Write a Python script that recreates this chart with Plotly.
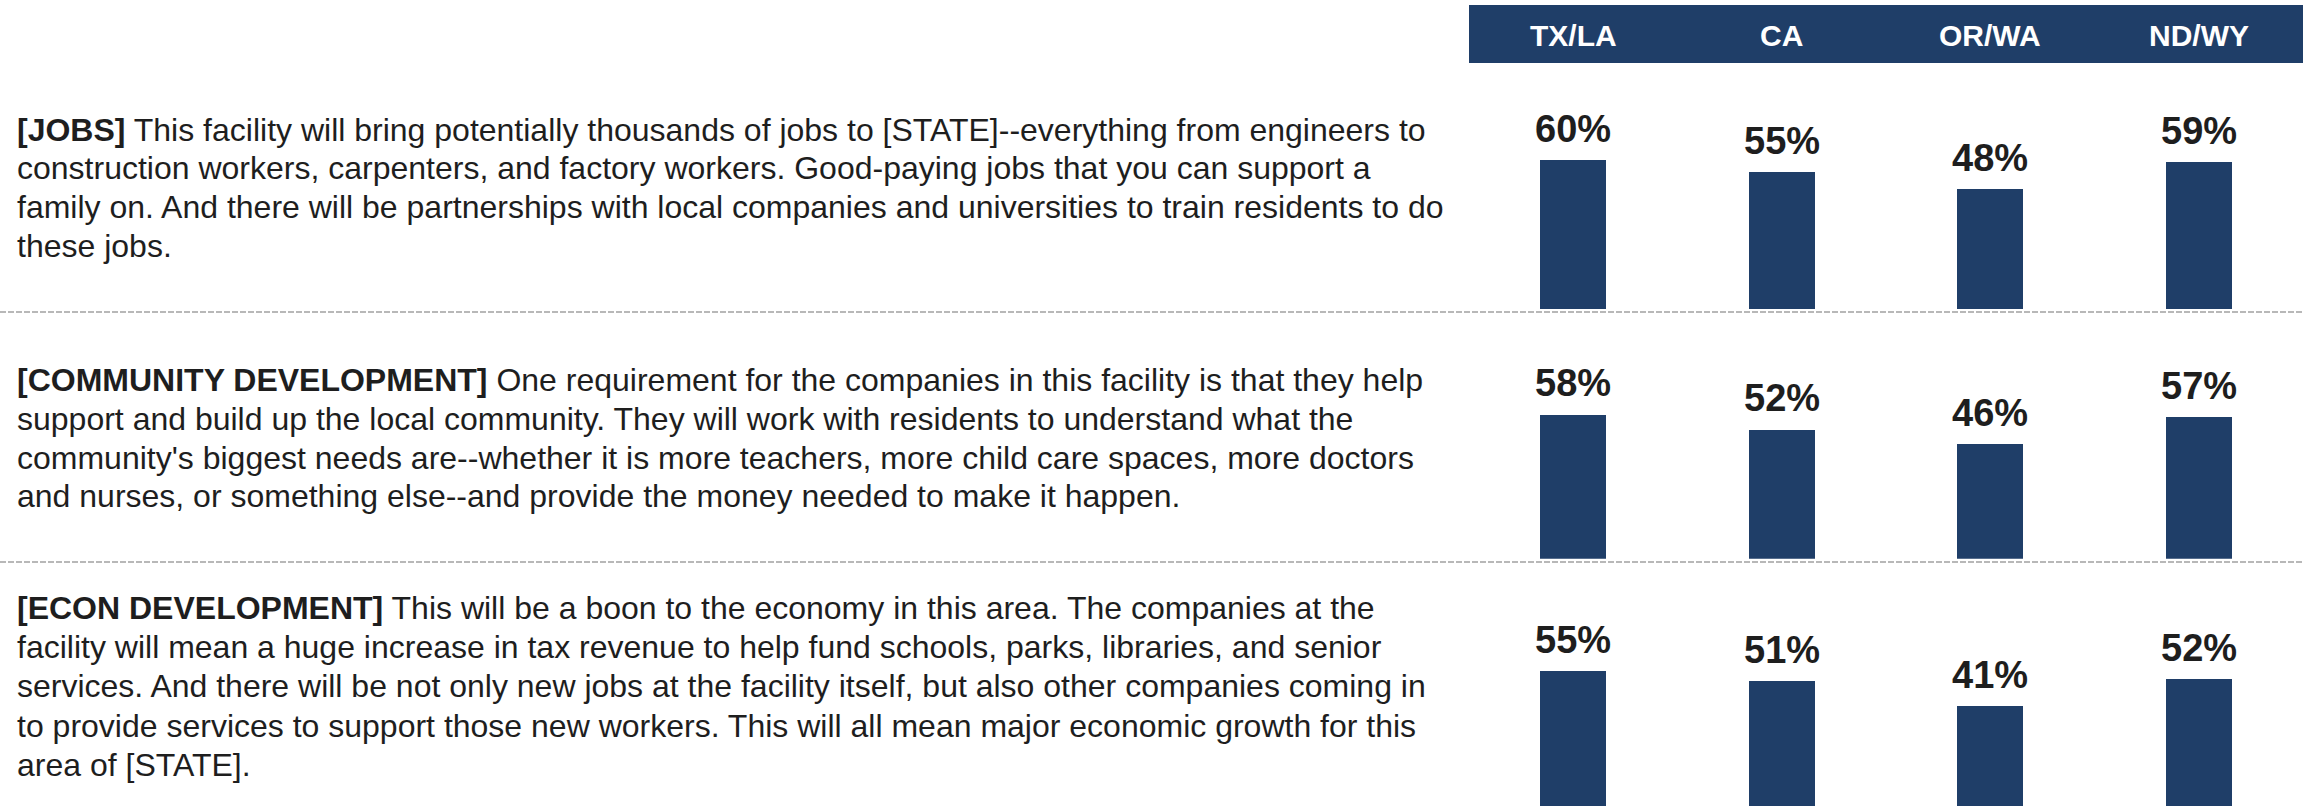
import plotly.graph_objects as go

# ---- data ----
categories = ["TX/LA", "CA", "OR/WA", "ND/WY"]
jobs = [60, 55, 48, 59]
community = [58, 52, 46, 57]
econ = [55, 51, 41, 52]
series = [jobs, community, econ]

row_texts = [
    ["<b>[JOBS]</b> This facility will bring potentially thousands of jobs to [STATE]--everything from engineers to",
     "construction workers, carpenters, and factory workers. Good-paying jobs that you can support a",
     "family on. And there will be partnerships with local companies and universities to train residents to do",
     "these jobs."],
    ["<b>[COMMUNITY DEVELOPMENT]</b> One requirement for the companies in this facility is that they help",
     "support and build up the local community. They will work with residents to understand what the",
     "community's biggest needs are--whether it is more teachers, more child care spaces, more doctors",
     "and nurses, or something else--and provide the money needed to make it happen."],
    ["<b>[ECON DEVELOPMENT]</b> This will be a boon to the economy in this area. The companies at the",
     "facility will mean a huge increase in tax revenue to help fund schools, parks, libraries, and senior",
     "services. And there will be not only new jobs at the facility itself, but also other companies coming in",
     "to provide services to support those new workers. This will all mean major economic growth for this",
     "area of [STATE]."],
]

# ---- layout constants ----
W, H = 2303, 806
NAVY = "#1f3e68"
TEXT = "#1e1e1e"
FONT = "Liberation Sans, Arial, sans-serif"

x_left = 1469 / W
baselines = [309, 558.7, 808]    # px from top
scale_px = 2.49                   # px per percentage point
first_line = [129.5, 380, 608]   # px from top, centre of first text line
line_step = [38.8, 38.8, 39.2]
dash_lines = [312, 562]

fig = go.Figure()
layout_axes = {}
annotations = []
for i, vals in enumerate(series):
    n = "" if i == 0 else str(i + 1)
    fig.add_trace(go.Bar(
        x=categories, y=vals, xaxis="x" + n, yaxis="y" + n,
        marker=dict(color=NAVY, line=dict(width=0)), width=0.316,
        hoverinfo="skip", showlegend=False))
    overflow = max(0.0, baselines[i] - H)   # baseline below the visible bottom edge
    bottom_px = min(baselines[i], H)
    rmin = overflow / scale_px
    rmax = 100
    bottom = (H - bottom_px) / H
    top = bottom + (rmax - rmin) * scale_px / H
    layout_axes["xaxis" + n] = dict(domain=[x_left, 1], range=[-0.5, 3.5], visible=False,
                                   anchor="y" + n, fixedrange=True)
    layout_axes["yaxis" + n] = dict(domain=[bottom, min(top, 1)], range=[rmin, rmax], visible=False,
                                   anchor="x" + n, fixedrange=True)
    for c, v in zip(categories, vals):
        annotations.append(dict(x=c, y=v, xref="x" + n, yref="y" + n, text=f"<b>{v}%</b>",
                                showarrow=False, yanchor="bottom", yshift=8,
                                font=dict(family=FONT, size=38, color=TEXT)))
    for j, line in enumerate(row_texts[i]):
        yc = first_line[i] + j * line_step[i]
        annotations.append(dict(x=15 / W, y=(H - yc) / H, xref="paper", yref="paper",
                                text=line, showarrow=False, xanchor="left",
                                yanchor="middle", align="left",
                                font=dict(family=FONT, size=32, color=TEXT)))

# header labels
for c in categories:
    annotations.append(dict(x=c, y=(H - 36) / H, xref="x", yref="paper", text=f"<b>{c}</b>",
                            showarrow=False, yanchor="middle",
                            font=dict(family=FONT, size=30, color="white")))

shapes = [dict(type="rect", xref="paper", yref="paper", x0=x_left, x1=1, y0=(H - 63) / H,
               y1=(H - 5) / H, fillcolor=NAVY, line=dict(width=0), layer="below")]
for y in dash_lines:
    shapes.append(dict(type="line", xref="paper", yref="paper", x0=0, x1=1,
                       y0=(H - y) / H, y1=(H - y) / H,
                       line=dict(color="#b8b8b8", width=2, dash="6px,2px")))

fig.update_layout(width=W, height=H, margin=dict(l=0, r=0, t=0, b=0),
                  paper_bgcolor="white", plot_bgcolor="rgba(0,0,0,0)",
                  annotations=annotations, shapes=shapes, bargap=0, **layout_axes)
fig.write_html("out.html", config={"displayModeBar": False},
               post_script="document.body.style.margin='0';document.body.style.overflow='hidden';")
